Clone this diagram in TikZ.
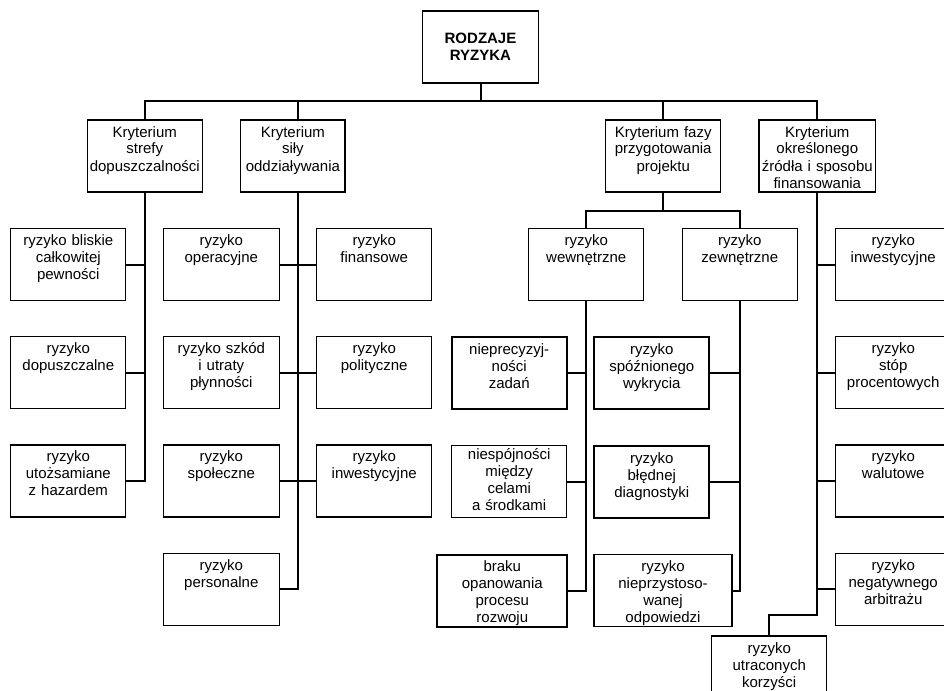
\documentclass[tikz,border=0pt]{standalone}
\usepackage{fontspec}
\setmainfont{Liberation Sans}
\usepackage{tikz}
\usetikzlibrary{positioning}
\tikzset{
  headnode/.style={draw,line width=1.2pt,text width=111.6pt,inner xsep=2pt,minimum height=72pt,align=center,font=\fontsize{15pt}{17pt}\selectfont\bfseries},
  risknode/.style={draw,line width=1.2pt,text width=111pt,inner xsep=2pt,inner ysep=3pt,text height=14pt,text depth=52pt,align=center,font=\fontsize{15pt}{17pt}\selectfont},
  boldnode/.style={risknode,line width=1.8pt},
  linkline/.style={line width=2pt}
}

\begin{document}
\begin{tikzpicture}[x=1pt,y=-1pt,node distance=35pt]
\useasboundingbox (0,0) rectangle (944,690);
\clip (0,0) rectangle (944,690);
% top and criteria
\node[headnode] (top) at (480.5,47) {RODZAJE\\RYZYKA};
\node[risknode] (k1) at (144.8,156) {Kryterium\\strefy\\dopuszczalności};
\node[risknode,text width=100.3pt] (k2) at (292.9,156) {Kryterium\\siły\\oddziaływania};
\node[risknode] (k3) at (663.2,156) {Kryterium fazy\\przygotowania\\projektu};
\node[risknode,text width=112.7pt] (k4) at (817.3,156) {Kryterium\\określonego\\źródła i sposobu\\finansowania};
% strefy dopuszczalnosci
\node[risknode] (l1) at (68.3,264.5) {ryzyko bliskie\\całkowitej\\pewności};
\node[risknode,below=of l1] (l2) {ryzyko\\dopuszczalne};
\node[risknode,below=of l2] (l3) {ryzyko\\utożsamiane\\z hazardem};
% sily oddzialywania
\node[risknode,text width=112pt] (ml1) at (221.3,264.5) {ryzyko\\operacyjne};
\node[risknode,text width=112pt,below=of ml1] (ml2) {ryzyko szkód\\i utraty\\płynności};
\node[risknode,text width=112pt,below=of ml2] (ml3) {ryzyko\\społeczne};
\node[risknode,text width=112pt,below=of ml3] (ml4) {ryzyko\\personalne};
\node[risknode] (mr1) at (374.2,264.5) {ryzyko\\finansowe};
\node[risknode,below=of mr1] (mr2) {ryzyko\\polityczne};
\node[risknode,below=of mr2] (mr3) {ryzyko\\inwestycyjne};
% fazy przygotowania
\node[risknode] (wewn) at (586.2,264.5) {ryzyko\\wewnętrzne};
\node[risknode] (zewn) at (739.8,264.5) {ryzyko\\zewnętrzne};
\node[boldnode] (niep) at (509.2,373.3) {nieprecyzyj-\\ności\\zadań};
\node[risknode,below=of niep,text height=11pt,text depth=55pt] (niesp) {niespójności\\między\\celami\\a środkami};
\node[boldnode,text width=126pt] (braku) at (502.3,590.7) {braku\\opanowania\\procesu\\rozwoju};
\node[boldnode] (spozn) at (651.8,373.3) {ryzyko\\spóźnionego\\wykrycia};
\node[boldnode,below=of spozn] (bled) {ryzyko\\błędnej\\diagnostyki};
\node[boldnode,text width=133.4pt] (nieprz) at (663,590.5) {ryzyko\\nieprzystoso-\\wanej\\odpowiedzi};
% zrodla finansowania
\node[risknode] (r1) at (893.2,264.5) {ryzyko\\inwestycyjne};
\node[risknode,below=of r1] (r2) {ryzyko\\stóp\\procentowych};
\node[risknode,below=of r2] (r3) {ryzyko\\walutowe};
\node[risknode,below=of r3] (r4) {ryzyko\\negatywnego\\arbitrażu};
\node[risknode] (utrac) at (769.2,672) {ryzyko\\utraconych\\korzyści};
% connectors
\coordinate (bus) at (0,101.5);
\coordinate (sub) at (0,210.7);
\coordinate (bend) at (0,615);
\coordinate (sp2) at (298.3,0);
\draw[linkline] (top.south) -- (top.south |- bus);
\draw[linkline] (k1.north) -- (k1.north |- bus) -- (k4.north |- bus) -- (k4.north);
\draw[linkline] (k3.north |- bus) -- (k3.north);
\draw[linkline] (sp2 |- bus) -- (sp2 |- k2.north);
\draw[linkline] (k1.south) |- (l3.east);
\foreach \n in {l1,l2}
  \draw[linkline] (\n.east) -- (\n.east -| k1.south);
\draw[linkline] (sp2 |- k2.south) |- (ml4.east);
\foreach \n in {ml1,ml2,ml3}
  \draw[linkline] (\n.east) -- (\n.east -| sp2);
\foreach \n in {mr1,mr2,mr3}
  \draw[linkline] (\n.west) -- (\n.west -| sp2);
\draw[linkline] (k3.south) -- (k3.south |- sub);
\draw[linkline] (wewn.north) -- (wewn.north |- sub) -- (zewn.north |- sub) -- (zewn.north);
\draw[linkline] (wewn.south) |- (braku.east);
\foreach \n in {niep,niesp}
  \draw[linkline] (\n.east) -- (\n.east -| wewn.south);
\draw[linkline] (zewn.south) |- (nieprz.east);
\foreach \n in {spozn,bled}
  \draw[linkline] (\n.east) -- (\n.east -| zewn.south);
\draw[linkline] (k4.south) -- (k4.south |- bend) -| (utrac.north);
\foreach \n in {r1,r2,r3,r4}
  \draw[linkline] (\n.west) -- (\n.west -| k4.south);
\end{tikzpicture}
\end{document}
